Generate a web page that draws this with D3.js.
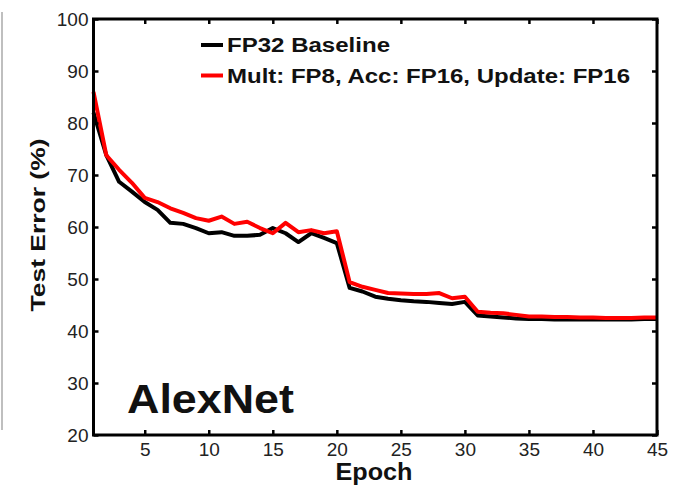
<!DOCTYPE html>
<html>
<head>
<meta charset="utf-8">
<script src="https://d3js.org/d3.v7.min.js"></script>
<style>
  body { margin: 0; background: white; }
  text { font-family: "Liberation Sans", Arial, sans-serif; }
  .tickLabel { font-size: 19px; fill: #222; }
  .bold { font-weight: bold; fill: #111; }
</style>
</head>
<body>
<div id="chart"></div>
<script>
// epochs 1..45
var epochs = d3.range(1, 46);

var baseline = [82, 73.8, 68.7, 66.8, 64.8, 63.3, 60.8, 60.6, 59.8, 58.8,
  59, 58.3, 58.3, 58.5, 59.8, 58.8, 57.1, 58.8, 57.9, 56.9,
  48.3, 47.6, 46.6, 46.2, 45.9, 45.7, 45.6, 45.4, 45.2, 45.6,
  43, 42.8, 42.6, 42.4, 42.3, 42.3, 42.2, 42.2, 42.2, 42.2,
  42.2, 42.2, 42.2, 42.3, 42.3];

var fp8 = [86, 73.8, 71, 68.5, 65.6, 64.8, 63.6, 62.7, 61.7, 61.2,
  62, 60.6, 61, 59.8, 58.8, 60.8, 59, 59.4, 58.8, 59.2,
  49.4, 48.5, 47.9, 47.3, 47.2, 47.1, 47.1, 47.3, 46.3, 46.6,
  43.7, 43.5, 43.4, 43.1, 42.8, 42.8, 42.7, 42.7, 42.6, 42.6,
  42.5, 42.5, 42.5, 42.6, 42.6];

var seriesNames = ["FP32 Baseline", "Mult: FP8, Acc: FP16, Update: FP16"];
var seriesColors = ["#000000", "#ff0000"];
var xTicks = [5, 10, 15, 20, 25, 30, 35, 40, 45];
var yTicks = [20, 30, 40, 50, 60, 70, 80, 90, 100];

var W = 679, H = 488;
var svg = d3.select("#chart").append("svg")
  .attr("width", W).attr("height", H)
  .style("background", "white");

var x = d3.scaleLinear().domain([1, 45]).range([93.5, 657]);
var y = d3.scaleLinear().domain([20, 100]).range([435, 19]);

// faint gray page edge on the left
svg.append("line")
  .attr("x1", 2).attr("x2", 2).attr("y1", 12).attr("y2", 430)
  .style("stroke", "#aaa").style("stroke-width", 1.5);

// lines
var line = d3.line()
  .x(function (d) { return x(d.e); })
  .y(function (d) { return y(d.v); });

[baseline, fp8].forEach(function (vals, k) {
  var pts = epochs.map(function (e, i) { return { e: e, v: vals[i] }; });
  svg.append("path")
    .datum(pts)
    .attr("d", line)
    .style("fill", "none")
    .style("stroke", seriesColors[k])
    .style("stroke-width", 4)
    .style("stroke-linejoin", "round");
});

// axes, matlab style: ticks pointing inward
function styleAxis(g) {
  g.select(".domain").remove();
  g.selectAll(".tick line").style("stroke", "#000").style("stroke-width", 2.5);
}

svg.append("g")
  .attr("transform", "translate(0," + y(20) + ")")
  .call(d3.axisBottom(x).tickValues(xTicks).tickSize(-5).tickPadding(8))
  .call(styleAxis)
  .selectAll("text").attr("class", "tickLabel").attr("font-size", null).attr("font-family", null);

svg.append("g")
  .attr("transform", "translate(0," + y(100) + ")")
  .call(d3.axisTop(x).tickValues(xTicks).tickSize(-5).tickFormat(""))
  .call(styleAxis);

svg.append("g")
  .attr("transform", "translate(" + x(1) + ",0)")
  .call(d3.axisLeft(y).tickValues(yTicks).tickSize(-5).tickPadding(5))
  .call(styleAxis)
  .selectAll("text").attr("class", "tickLabel").attr("font-size", null).attr("font-family", null);

svg.append("g")
  .attr("transform", "translate(" + x(45) + ",0)")
  .call(d3.axisRight(y).tickValues(yTicks).tickSize(-5).tickFormat(""))
  .call(styleAxis);

// frame
svg.append("rect")
  .attr("x", x(1)).attr("y", y(100))
  .attr("width", x(45) - x(1)).attr("height", y(20) - y(100))
  .style("fill", "none").style("stroke", "#000").style("stroke-width", 3);

// legend
var legend = svg.selectAll(".legend")
  .data(seriesNames)
  .enter().append("g")
  .attr("class", "legend")
  .attr("transform", function (d, i) { return "translate(201," + (45 + i * 30.5) + ")"; });

legend.append("line")
  .attr("x1", 0).attr("x2", 22).attr("y1", 0).attr("y2", 0)
  .style("stroke", function (d, i) { return seriesColors[i]; })
  .style("stroke-width", 4);

legend.append("text")
  .attr("class", "bold")
  .attr("x", 26).attr("y", 7)
  .style("font-size", "19.5px")
  .attr("textLength", function (d, i) { return i === 0 ? 163 : 403; })
  .attr("lengthAdjust", "spacingAndGlyphs")
  .text(function (d) { return d; });

// titles
svg.append("text")
  .attr("class", "bold")
  .attr("x", 374).attr("y", 480)
  .style("text-anchor", "middle")
  .style("font-size", "23px")
  .attr("textLength", 77).attr("lengthAdjust", "spacingAndGlyphs")
  .text("Epoch");

svg.append("text")
  .attr("class", "bold")
  .attr("transform", "translate(45,225) rotate(-90)")
  .style("text-anchor", "middle")
  .style("font-size", "20.5px")
  .attr("textLength", 173).attr("lengthAdjust", "spacingAndGlyphs")
  .text("Test Error (%)");

svg.append("text")
  .attr("class", "bold")
  .attr("x", 127).attr("y", 413)
  .style("font-size", "41px")
  .attr("textLength", 167).attr("lengthAdjust", "spacingAndGlyphs")
  .text("AlexNet");
</script>
</body>
</html>
